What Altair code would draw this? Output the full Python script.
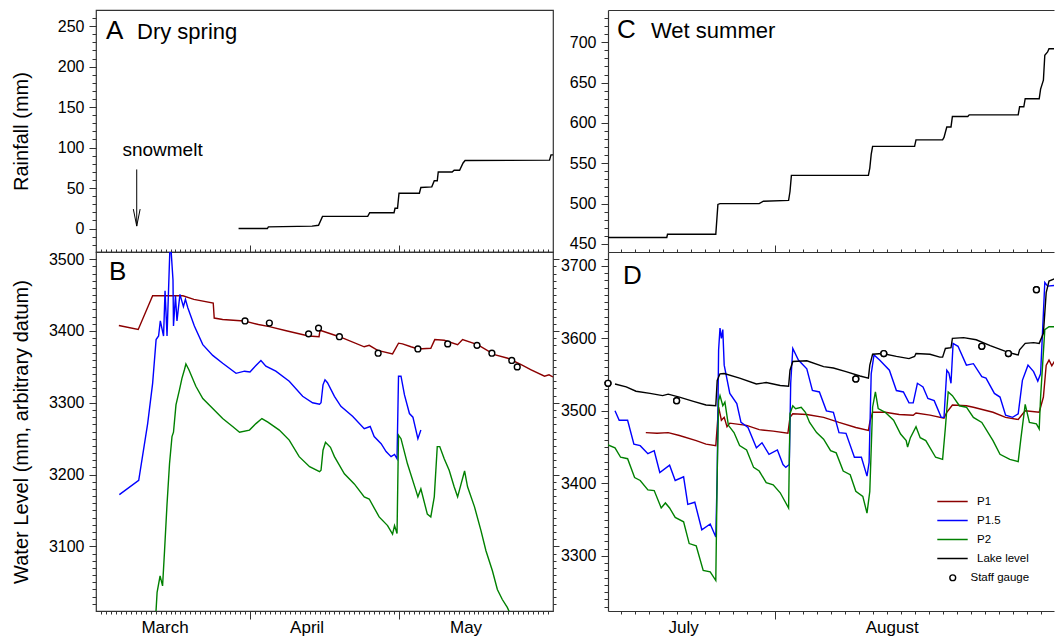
import altair as alt
import pandas as pd

FONT = "Liberation Sans"
TICK = "#333333"

# ---------------- Dry spring (x = days after 1 March) ----------------
SPRING_MONTH_START = [31, 61]                      # 1 April, 1 May
SPRING_MONTH_LABELS = ["March", "April", "May"]
SPRING_MONTH_LABEL_DAY = [13.9, 42.5, 74.5]

SPRING_RAIN_DAY = [28.7, 34.5, 34.7, 43.5, 44.8, 45.6, 54.7, 55.1, 60.0, 60.2, 60.7, 61.0, 65.1,
                   65.4, 67.6, 68.1, 68.7, 68.9, 71.7, 72.1, 73.2, 73.9, 74.3, 91.3, 91.6, 92.0]
SPRING_RAIN_MM = [0, 0, 2, 3, 4, 15, 15, 19.5, 19.5, 25, 25, 43.6, 43.6,
                  50.7, 51.5, 59, 59, 69.8, 69.8, 72, 72, 81, 84, 84.5, 91, 91]

SNOWMELT_DAY = [8.2]
SNOWMELT_ARROW_TOP = [73]
SNOWMELT_ARROW_TIP = [3]
SNOWMELT_TEXT_DAY = [13.4]
SNOWMELT_TEXT_Y = [90]

SPRING_P1_DAY = [4.6, 8.5, 11.4, 17.5, 19.7, 23.6, 23.8, 25.5, 29.8, 32.7, 34.9, 38.5, 42.8, 44.9, 45.1,
                 49.0, 54.0, 55.0, 56.7, 59.7, 60.9, 61.7, 63.4, 64.8, 67.4, 68.2, 70.1, 72.8, 73.8,
                 76.8, 80.2, 82.9, 85.6, 87.6, 90.3, 91.2, 92.0]
SPRING_P1_MM = [3407.6, 3402, 3449, 3449, 3444, 3439, 3418, 3416, 3414, 3409, 3406, 3400, 3393, 3392, 3401,
                3392, 3378, 3380, 3373, 3368, 3383, 3382, 3378, 3375, 3376, 3388, 3387, 3381, 3388,
                3381, 3367, 3362, 3353, 3346, 3337, 3339, 3336]

SPRING_P15_DAY = [4.7, 8.6, 10.4, 11.4, 12.1, 12.6, 12.95, 13.6, 13.9, 14.3, 14.95, 15.5, 15.6, 16.0,
                  16.3, 16.9, 17.6, 18.0, 18.5, 19.8, 21.5, 23.5, 25.5, 28.2, 29.9, 31.0, 32.2, 33.2,
                  34.2, 36.2, 38.9, 41.6, 43.6, 45.0, 45.3, 45.7, 46.1, 46.6, 48.0, 49.3, 51.7, 54.0,
                  55.2, 56.0, 57.4, 58.4, 59.4, 60.1, 60.6, 60.9, 61.4, 62.1, 63.1, 63.8, 64.8, 65.4]
SPRING_P15_MM = [3172, 3192, 3271, 3327, 3388, 3393, 3414, 3393, 3456, 3393, 3530, 3471, 3407, 3449,
                 3414, 3451, 3434, 3444, 3432, 3407, 3381, 3366, 3355, 3341, 3344, 3343, 3352, 3359,
                 3351, 3344, 3330, 3309, 3300, 3298, 3300, 3325, 3332, 3328, 3309, 3295, 3281, 3264,
                 3267, 3253, 3243, 3232, 3225, 3228, 3222, 3337, 3337, 3311, 3285, 3280, 3250, 3262]

SPRING_P2_DAY = [12.0, 12.3, 12.9, 13.4, 13.8, 14.3, 14.8, 15.3, 15.6, 16.1, 16.8, 17.3, 17.8, 18.1,
                 18.7, 20.1, 21.5, 23.5, 25.5, 27.5, 28.9, 30.9, 32.2, 33.4, 34.6, 36.9, 38.9, 40.9,
                 43.0, 45.0, 45.3, 45.7, 46.2, 47.2, 48.0, 50.0, 52.0, 54.0, 55.0, 57.0, 58.7, 59.7,
                 60.1, 60.6, 60.9, 61.4, 62.7, 64.4, 64.8, 65.4, 66.7, 67.4, 68.1, 68.7, 69.2, 70.1,
                 71.1, 72.1, 72.8, 73.5, 74.2, 74.8, 76.2, 77.5, 78.5, 79.8, 80.8, 81.8, 82.8, 83.8]
SPRING_P2_MM = [3000, 3036, 3059, 3045, 3094, 3159, 3215, 3253, 3259, 3297, 3318, 3334, 3346, 3354,
                3346, 3323, 3306, 3292, 3278, 3267, 3259, 3262, 3271, 3278, 3273, 3262, 3248, 3225,
                3211, 3204, 3206, 3234, 3245, 3238, 3225, 3201, 3187, 3169, 3166, 3141, 3129, 3117,
                3129, 3118, 3255, 3250, 3215, 3178, 3169, 3180, 3145, 3141, 3169, 3239, 3239, 3222,
                3206, 3183, 3169, 3187, 3205, 3183, 3155, 3122, 3094, 3066, 3040, 3026, 3015, 3000]

SPRING_GAUGE_DAY = [30.0, 34.9, 42.8, 44.8, 49.0, 56.8, 64.8, 70.8, 76.7, 79.7, 83.7, 84.8]
SPRING_GAUGE_MM = [3414, 3411, 3396, 3404, 3392, 3369, 3375, 3382, 3380, 3369, 3359, 3350]

# ---------------- Wet summer (x = days after 1 July) ----------------
SUMMER_MONTH_START = [31]                           # 1 August
SUMMER_MONTH_LABELS = ["July", "August"]
SUMMER_MONTH_LABEL_DAY = [24.5, 39.4]

SUMMER_RAIN_DAY = [19.1, 23.3, 23.35, 26.8, 26.95, 27.1, 29.9, 30.2, 32.0, 32.1, 32.2, 37.7, 37.8,
                   37.9, 38.0, 41.0, 41.1, 43.0, 43.1, 43.3, 43.6, 43.7, 44.8, 44.9, 48.4, 48.5,
                   48.8, 48.9, 49.9, 50.0, 50.2, 50.3, 50.5, 50.6, 52.2]
SUMMER_RAIN_MM = [458, 458, 462, 462, 499, 500, 500, 503, 504, 515, 535, 535, 544,
                  561, 571, 571, 579, 579, 582, 595, 595, 608, 608, 610, 610, 620,
                  620, 630, 630, 642, 653, 684, 688, 692, 692]

SUMMER_LAKE_DAY = [19.6, 20.4, 21.1, 22.1, 23.0, 23.4, 24.2, 25.2, 26.1, 26.8, 26.9, 27.1, 27.4, 28.5,
                   29.7, 30.4, 31.4, 32.0, 32.1, 32.3, 33.3, 34.5, 35.2, 36.1, 37.1, 37.7, 37.8, 38.0,
                   38.7, 39.7, 40.6, 41.0, 41.1, 42.1, 42.8, 43.0, 43.2, 43.6, 43.7, 44.5, 45.4, 46.4,
                   47.5, 48.0, 48.4, 48.5, 48.9, 49.5, 49.9, 50.2, 50.4, 50.6, 51.0, 51.5, 52.2]
SUMMER_LAKE_MM = [3537, 3533, 3527, 3524, 3521, 3523, 3519, 3513, 3508, 3507, 3542, 3551, 3551.5, 3545,
                  3537, 3539, 3535, 3534, 3556, 3568, 3569, 3561, 3559, 3554, 3548, 3545, 3563, 3578,
                  3579, 3575, 3572, 3575, 3579, 3578, 3574, 3574, 3586, 3587, 3600, 3601, 3598, 3590,
                  3582, 3579, 3577, 3584, 3593, 3594, 3593, 3607, 3663, 3679, 3682, 3682, 3682]

SUMMER_P15_DAY = [19.6, 19.9, 20.5, 20.95, 21.4, 21.95, 22.4, 22.8, 23.5, 23.9, 24.5, 24.8, 25.3, 25.8,
                  26.4, 26.8, 26.9, 27.0, 27.1, 27.2, 27.3, 27.4, 27.8, 28.3, 28.6, 29.1, 29.7, 30.1,
                  30.6, 31.2, 31.6, 31.8, 32.05, 32.15, 32.3, 32.7, 33.3, 33.7, 34.2, 34.7, 35.2, 35.6,
                  36.1, 36.7, 37.2, 37.6, 37.75, 37.9, 38.1, 38.5, 39.2, 39.7, 40.2, 40.6, 40.9, 41.2,
                  41.6, 41.95, 42.4, 42.9, 43.1, 43.3, 43.45, 43.6, 43.75, 44.1, 44.7, 45.2, 45.8, 46.1,
                  46.7, 47.1, 47.5, 48.0, 48.4, 48.7, 49.1, 49.5, 49.8, 50.0, 50.2, 50.3, 50.5, 51.0,
                  51.5, 52.2]
SUMMER_P15_MM = [3500, 3487, 3487, 3454, 3452, 3441, 3445, 3415, 3425, 3404, 3409, 3371, 3374, 3336,
                 3344, 3326, 3412, 3584, 3614, 3600, 3612, 3563, 3524, 3510, 3484, 3477, 3449, 3456,
                 3440, 3446, 3426, 3422, 3426, 3538, 3586, 3570, 3558, 3528, 3526, 3500, 3498, 3470,
                 3469, 3436, 3436, 3410, 3429, 3551, 3577, 3570, 3556, 3528, 3526, 3511, 3511, 3538,
                 3533, 3517, 3514, 3491, 3491, 3556, 3552, 3538, 3593, 3589, 3563, 3565, 3547, 3545,
                 3524, 3519, 3494, 3491, 3496, 3542, 3563, 3554, 3541, 3551, 3635, 3677, 3672, 3673,
                 3671, 3669]

SUMMER_P2_DAY = [19.1, 19.6, 20.0, 20.5, 21.0, 21.4, 21.95, 22.4, 22.9, 23.2, 23.5, 23.9, 24.5, 24.9,
                 25.4, 25.9, 26.4, 26.8, 26.9, 27.0, 27.1, 27.3, 27.45, 27.7, 28.1, 28.5, 29.0, 29.5,
                 29.9, 30.4, 30.9, 31.4, 32.0, 32.1, 32.3, 32.5, 32.9, 33.2, 33.5, 34.0, 34.5, 35.0,
                 35.4, 35.9, 36.4, 36.8, 37.3, 37.6, 37.8, 38.0, 38.2, 38.4, 38.9, 39.5, 40.0, 40.4,
                 40.5, 40.7, 41.1, 41.4, 41.8, 42.5, 43.0, 43.2, 43.4, 43.7, 44.2, 44.7, 45.2, 45.8,
                 46.6, 47.1, 47.8, 48.4, 48.6, 48.9, 49.2, 49.7, 49.9, 50.0, 50.3, 50.6, 51.1, 51.5, 52.2]
SUMMER_P2_MM = [3453, 3449, 3436, 3434, 3408, 3404, 3391, 3390, 3366, 3373, 3366, 3353, 3347, 3317,
                3314, 3280, 3278, 3266, 3412, 3514, 3521, 3507, 3512, 3480, 3470, 3452, 3446, 3422,
                3417, 3401, 3398, 3387, 3366, 3496, 3507, 3503, 3505, 3498, 3484, 3470, 3461, 3445,
                3442, 3417, 3412, 3389, 3382, 3359, 3389, 3505, 3526, 3503, 3498, 3487, 3468, 3459,
                3450, 3463, 3478, 3463, 3459, 3436, 3433, 3477, 3526, 3521, 3507, 3505, 3491, 3484,
                3459, 3440, 3433, 3430, 3463, 3509, 3484, 3482, 3475, 3519, 3612, 3616, 3616, 3610, 3605]

SUMMER_P1_DAY = [21.8, 22.6, 23.4, 24.2, 25.4, 26.1, 26.8, 27.0, 27.2, 27.4, 27.6, 27.8, 29.0, 29.9,
                 30.9, 31.95, 32.1, 32.3, 33.3, 34.5, 35.6, 36.8, 37.7, 37.8, 38.0, 38.9, 39.9, 40.9,
                 41.1, 42.1, 43.1, 43.3, 43.7, 44.7, 45.2, 46.6, 47.5, 48.4, 48.9, 49.9, 50.2, 50.4,
                 50.6, 50.8, 51.1, 51.2, 51.3, 51.5, 52.2]
SUMMER_P1_MM = [3470, 3469, 3470, 3466, 3459, 3454, 3452, 3505, 3487, 3491, 3478, 3483, 3480, 3474,
                3472, 3469, 3491, 3496, 3495, 3491, 3484, 3477, 3473, 3484, 3498, 3498, 3495, 3494,
                3497, 3494, 3490, 3498, 3508, 3507, 3505, 3498, 3491, 3488, 3500, 3498, 3519, 3563,
                3570, 3562, 3572, 3533, 3561, 3558, 3556]

SUMMER_GAUGE_DAY = [19.1, 24.0, 36.8, 38.8, 45.8, 47.7, 49.7]
SUMMER_GAUGE_MM = [3538, 3514, 3544, 3579, 3589, 3579, 3667]

SERIES = ["P1", "P1.5", "P2", "Lake level"]
SERIES_COLORS = ["#8B0000", "#0000FF", "#008000", "#000000"]

# ---------------- layout ----------------
W_L, W_R = 457, 446
H_TOP, H_BOT = 242, 359
PX_PER_DAY_R = 14.0
LINE_W = 1.4


def series_df(pairs):
    frames = []
    for name, d, v in pairs:
        frames.append(pd.DataFrame({"day": d, "value": v, "series": name, "order": range(len(d))}))
    return pd.concat(frames, ignore_index=True)


def ax(orient, values, size, labels=False, **kw):
    args = dict(orient=orient, values=values, tickSize=size, labels=labels, domain=False,
                grid=False, ticks=True, tickColor=TICK, tickWidth=1,
                domainColor=TICK, domainWidth=1.2)
    if labels:
        args.update(labelFont=FONT, labelFontSize=16, labelColor="black", labelPadding=5, format="d")
    args.update(kw)
    return alt.Axis(**args)


def ytitle_axis(values, h):
    return ax("left", values, 7, labels=True, titleFont=FONT, titleFontSize=20,
              titleFontWeight="normal", titleColor="black", titleX=-65, titleY=h / 2,
              titleAngle=270, titleAlign="center", titleBaseline="bottom")


def hidden(df, xs, ys, xaxis, yaxis):
    return alt.Chart(df).mark_point(opacity=0, clip=True).encode(
        x=alt.X("day:Q", scale=xs, axis=xaxis, title=None),
        y=alt.Y("value:Q", scale=ys, axis=yaxis, title=None))


def letter(text, x, y, size):
    return alt.Chart(pd.DataFrame({"t": [text]})).mark_text(
        font=FONT, fontSize=size, align="left", baseline="alphabetic", color="black").encode(
        x=alt.value(x), y=alt.value(y), text="t:N")


def month_labels(days, labels, xs, h):
    return alt.Chart(pd.DataFrame({"day": days, "label": labels})).mark_text(
        font=FONT, fontSize=17, align="center", baseline="middle", color="black").encode(
        x=alt.X("day:Q", scale=xs, axis=None), y=alt.value(h + 17), text="label:N")


xL = alt.Scale(domain=[0, 92], nice=False, zero=False)
xR = alt.Scale(domain=[19.1, 19.1 + W_R / PX_PER_DAY_R], nice=False, zero=False)
yA = alt.Scale(domain=[-29, 270], nice=False, zero=False)
yB = alt.Scale(domain=[3010, 3510], nice=False, zero=False)
yC = alt.Scale(domain=[440, 740], nice=False, zero=False)
yD = alt.Scale(domain=[3224, 3719], nice=False, zero=False)

# ---------------- Panel A ----------------
rainA = pd.DataFrame({"day": SPRING_RAIN_DAY, "value": SPRING_RAIN_MM})
a_line = alt.Chart(rainA).mark_line(color="black", strokeWidth=LINE_W, clip=True).encode(
    x=alt.X("day:Q", scale=xL, axis=None),
    y=alt.Y("value:Q", scale=yA, title="Rainfall (mm)",
            axis=ytitle_axis([0, 50, 100, 150, 200, 250], H_TOP)))
a_minor = hidden(rainA, xL, yA, None, ax("left", list(range(-20, 270, 10)), 4))
snow = pd.DataFrame({"day": SNOWMELT_DAY, "top": SNOWMELT_ARROW_TOP, "tip": SNOWMELT_ARROW_TIP,
                     "tday": SNOWMELT_TEXT_DAY, "ty": SNOWMELT_TEXT_Y, "label": ["snowmelt"]})
a_rule = alt.Chart(snow).mark_rule(color="black", strokeWidth=1).encode(
    x=alt.X("day:Q", scale=xL, axis=None), y=alt.Y("top:Q", scale=yA, axis=None), y2="tip:Q")
a_head = alt.Chart(snow).mark_point(shape="M-0.4,-2L0,0L0.4,-2", size=289, filled=False,
                                    color="black", strokeWidth=1, opacity=1).encode(
    x=alt.X("day:Q", scale=xL, axis=None), y=alt.Y("tip:Q", scale=yA, axis=None))
a_text = alt.Chart(snow).mark_text(font=FONT, fontSize=19, align="center", baseline="alphabetic",
                                   color="black").encode(
    x=alt.X("tday:Q", scale=xL, axis=None), y=alt.Y("ty:Q", scale=yA, axis=None), text="label:N")
panelA = alt.layer(a_line, a_minor, a_rule, a_head, a_text,
                   letter("A", 10, 29, 26), letter("Dry spring", 41, 29, 22)).resolve_axis(
    x="independent", y="independent").properties(width=W_L, height=H_TOP)

# ---------------- Panel B ----------------
dfB = series_df([("P1", SPRING_P1_DAY, SPRING_P1_MM), ("P1.5", SPRING_P15_DAY, SPRING_P15_MM),
                 ("P2", SPRING_P2_DAY, SPRING_P2_MM)])
gaugeB = pd.DataFrame({"day": SPRING_GAUGE_DAY, "value": SPRING_GAUGE_MM})
days_L = list(range(1, 92))
b_lines = alt.Chart(dfB).mark_line(strokeWidth=LINE_W, clip=True).encode(
    x=alt.X("day:Q", scale=xL, axis=ax("bottom", SPRING_MONTH_START, 8), title=None),
    y=alt.Y("value:Q", scale=yB, title="Water Level (mm, arbitrary datum)",
            axis=ytitle_axis([3100, 3200, 3300, 3400, 3500], H_BOT)),
    color=alt.Color("series:N", scale=alt.Scale(domain=SERIES, range=SERIES_COLORS), legend=None),
    order="order:Q")
b_ax1 = hidden(gaugeB, xL, yB, ax("bottom", days_L, 3), ax("left", list(range(3020, 3510, 10)), 4))
b_ax2 = hidden(gaugeB, xL, yB, ax("top", days_L, 3), ax("right", list(range(3020, 3510, 10)), 3))
b_ax3 = hidden(gaugeB, xL, yB, ax("top", SPRING_MONTH_START, 7), ax("right", [3100, 3200, 3300, 3400, 3500], 6))
b_pts = alt.Chart(gaugeB).mark_point(shape="circle", size=34, filled=True, fill="white",
                                     stroke="black", strokeWidth=1.4, opacity=1).encode(
    x=alt.X("day:Q", scale=xL, axis=None), y=alt.Y("value:Q", scale=yB, axis=None))
panelB = alt.layer(b_lines, b_ax1, b_ax2, b_ax3, b_pts,
                   month_labels(SPRING_MONTH_LABEL_DAY, SPRING_MONTH_LABELS, xL, H_BOT),
                   letter("B", 13, 28, 26)).resolve_axis(
    x="independent", y="independent").properties(width=W_L, height=H_BOT)

# ---------------- Panel C (right edge left open, as if cropped) ----------------
rainC = pd.DataFrame({"day": SUMMER_RAIN_DAY, "value": SUMMER_RAIN_MM})
c_line = alt.Chart(rainC).mark_line(color="black", strokeWidth=LINE_W, clip=True).encode(
    x=alt.X("day:Q", scale=xR, axis=None),
    y=alt.Y("value:Q", scale=yC, title=None,
            axis=ax("left", [450, 500, 550, 600, 650, 700], 7, labels=True, domain=True)))
c_minor = hidden(rainC, xR, yC, ax("top", [], 0, domain=True, ticks=False),
                 ax("left", list(range(450, 740, 10)), 4))
panelC = alt.layer(c_line, c_minor, letter("C", 9, 28, 26), letter("Wet summer", 43, 28, 22)).resolve_axis(
    x="independent", y="independent").properties(
    width=W_R, height=H_TOP, view=alt.ViewBackground(stroke="transparent"))

# ---------------- Panel D ----------------
dfD = series_df([("P1", SUMMER_P1_DAY, SUMMER_P1_MM), ("P1.5", SUMMER_P15_DAY, SUMMER_P15_MM),
                 ("P2", SUMMER_P2_DAY, SUMMER_P2_MM), ("Lake level", SUMMER_LAKE_DAY, SUMMER_LAKE_MM)])
gaugeD = pd.DataFrame({"day": SUMMER_GAUGE_DAY, "value": SUMMER_GAUGE_MM,
                       "kind": ["Staff gauge"] * len(SUMMER_GAUGE_DAY)})
days_R = list(range(20, 51))
d_lines = alt.Chart(dfD).mark_line(strokeWidth=LINE_W, clip=True).encode(
    x=alt.X("day:Q", scale=xR, axis=ax("bottom", SUMMER_MONTH_START, 8), title=None),
    y=alt.Y("value:Q", scale=yD, title=None,
            axis=ax("left", [3300, 3400, 3500, 3600, 3700], 7, labels=True, domain=True)),
    color=alt.Color("series:N", scale=alt.Scale(domain=SERIES, range=SERIES_COLORS),
                    legend=alt.Legend(orient="none", legendX=334, legendY=239, title=None,
                                      direction="vertical", symbolType="M-1.6,0H1.6",
                                      symbolSize=361, symbolStrokeWidth=1.5, labelFont=FONT,
                                      labelFontSize=11.5, labelColor="black", labelOffset=14,
                                      rowPadding=3, padding=0)),
    order="order:Q")
d_ax1 = hidden(gaugeD, xR, yD, ax("bottom", days_R, 3, domain=True),
               ax("left", list(range(3230, 3720, 10)), 4))
d_ax2 = hidden(gaugeD, xR, yD, ax("top", days_R, 3, domain=True), None)
d_ax3 = hidden(gaugeD, xR, yD, ax("top", SUMMER_MONTH_START, 7), None)
# hollow-circle layer that carries the "Staff gauge" legend entry
d_key = alt.Chart(gaugeD).mark_point(size=34, filled=False, color="black",
                                     strokeWidth=1.4, opacity=1).encode(
    x=alt.X("day:Q", scale=xR, axis=None), y=alt.Y("value:Q", scale=yD, axis=None),
    shape=alt.Shape("kind:N", scale=alt.Scale(domain=["Staff gauge"], range=["circle"]),
                    legend=alt.Legend(orient="none", legendX=339, legendY=320, title=None,
                                      symbolSize=34, symbolStrokeWidth=1.4,
                                      labelFont=FONT, labelFontSize=11.5, labelColor="black",
                                      labelOffset=12, padding=0)))
d_pts = alt.Chart(gaugeD).mark_point(shape="circle", size=34, filled=True, fill="white",
                                     stroke="black", strokeWidth=1.4, opacity=1).encode(
    x=alt.X("day:Q", scale=xR, axis=None), y=alt.Y("value:Q", scale=yD, axis=None))
panelD = alt.layer(d_lines, d_ax1, d_ax2, d_ax3, d_key, d_pts,
                   month_labels(SUMMER_MONTH_LABEL_DAY, SUMMER_MONTH_LABELS, xR, H_BOT),
                   letter("D", 15, 32, 26)).resolve_axis(
    x="independent", y="independent").properties(
    width=W_R, height=H_BOT, view=alt.ViewBackground(stroke="transparent"))

chart = alt.concat(panelA, panelC, panelB, panelD, columns=2,
                   spacing={"row": 0, "column": 55}, bounds="flush").resolve_scale(
    color="independent", shape="independent").properties(
    padding={"left": 2, "top": 1, "right": 0, "bottom": 0})
chart = chart.configure(font=FONT).configure_view(stroke=TICK, strokeWidth=1.2)

chart.save("out.html", embed_options={"renderer": "svg", "actions": False})
